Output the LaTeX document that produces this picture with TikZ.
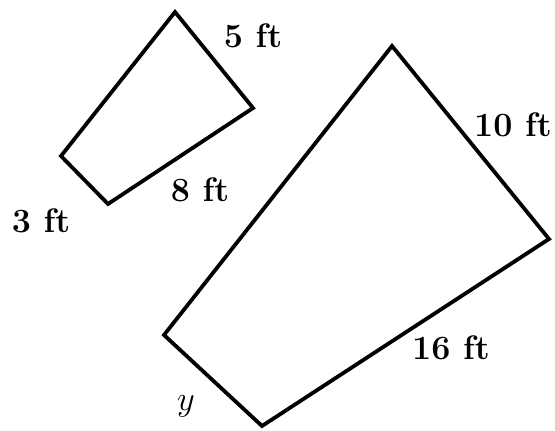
\documentclass[tikz,border=0pt]{standalone}
\begin{document}
\begin{tikzpicture}[x=0.5pt,y=-0.5pt,
  edge/.style={line width=1.9pt,line join=miter},
  lbl/.style={anchor=base,inner sep=0pt,font=\fontsize{17}{20}\selectfont\bfseries}]
\useasboundingbox (0,0) rectangle (555,431);
% small quadrilateral
\coordinate (sT) at (175,12);
\coordinate (sR) at (253,108);
\coordinate (sB) at (108,204);
\coordinate (sL) at (61,156);
\draw[edge] (sT) -- (sR) -- (sB) -- (sL) -- cycle;
% large quadrilateral
\coordinate (lT) at (392,46);
\coordinate (lR) at (549,239);
\coordinate (lB) at (262,426);
\coordinate (lL) at (164,335);
\draw[edge] (lT) -- (lR) -- (lB) -- (lL) -- cycle;
% labels
\node[lbl] (a) at (253,48) {5 ft};
\node[lbl] (b) at (200,202) {8 ft};
\node[lbl] (c) at (41,233) {3 ft};
\node[lbl] (d) at (513,137) {10 ft};
\node[lbl] (e) at (451,360) {16 ft};
\node[lbl] (f) at (186,410) {$y$};
\end{tikzpicture}
\end{document}
